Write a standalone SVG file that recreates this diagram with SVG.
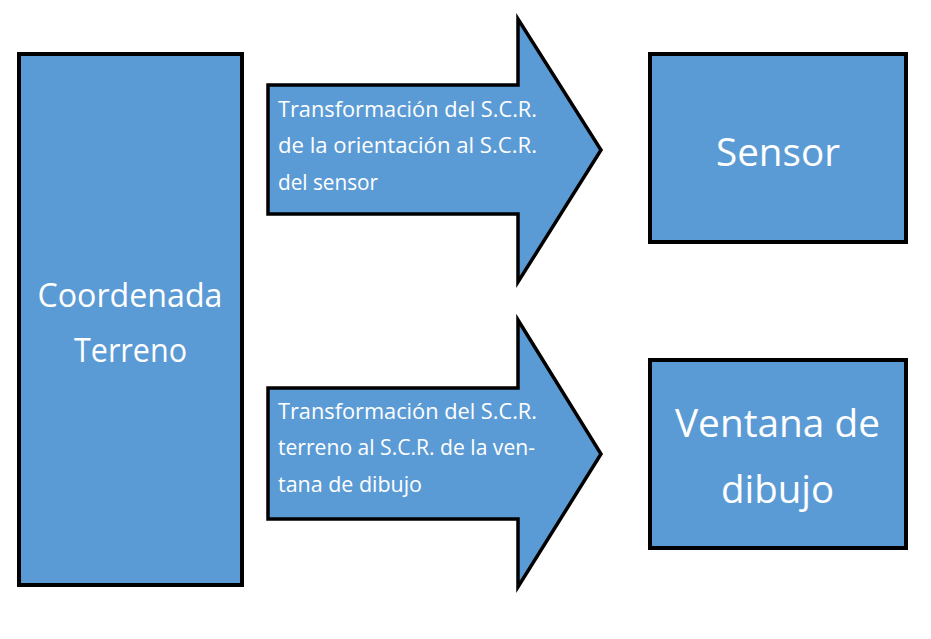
<svg xmlns="http://www.w3.org/2000/svg" width="931" height="639" viewBox="0 0 931 639">
<style>
.box{fill:#5B9BD5;stroke:#000;stroke-width:4}
.arr{fill:#5B9BD5;stroke:#000;stroke-width:3.5;stroke-linejoin:miter}
.big{font-family:"Open Sans","Liberation Sans",sans-serif;font-size:39px;fill:#fff;text-anchor:middle}
.mid{font-size:32.5px}
.small{font-family:"Open Sans","Liberation Sans",sans-serif;font-size:21.5px;fill:#fff}
</style>
<rect width="931" height="639" fill="#fff"/>
<g id="coordenada">
<rect class="box" x="19" y="54" width="223" height="531"/>
<text class="big mid" x="130" y="307" textLength="185" lengthAdjust="spacingAndGlyphs">Coordenada</text>
<text class="big mid" x="130.5" y="362" textLength="113" lengthAdjust="spacingAndGlyphs">Terreno</text>
</g>
<g id="connectors">
<g id="arrow1">
<path class="arr" d="M268,85 H518 V19 L601,150 L518,282 V214 H268 Z"/>
<text class="small" x="278" y="117" textLength="259" lengthAdjust="spacingAndGlyphs">Transformación del S.C.R.</text>
<text class="small" x="278" y="153" textLength="259" lengthAdjust="spacingAndGlyphs">de la orientación al S.C.R.</text>
<text class="small" x="278" y="190" textLength="100" lengthAdjust="spacingAndGlyphs">del sensor</text>
</g>
<g id="arrow2">
<path class="arr" d="M268,388 H518 V320 L601,454 L518,587 V519 H268 Z"/>
<text class="small" x="278" y="419" textLength="259" lengthAdjust="spacingAndGlyphs">Transformación del S.C.R.</text>
<text class="small" x="278" y="455" textLength="257" lengthAdjust="spacingAndGlyphs">terreno al S.C.R. de la ven-</text>
<text class="small" x="278" y="492" textLength="144" lengthAdjust="spacingAndGlyphs">tana de dibujo</text>
</g>
</g>
<g id="sensor">
<rect class="box" x="650" y="54" width="256" height="188"/>
<text class="big" x="778" y="166" textLength="124" lengthAdjust="spacingAndGlyphs">Sensor</text>
</g>
<g id="ventana">
<rect class="box" x="650" y="360" width="256" height="188"/>
<text class="big" x="777.5" y="437" textLength="205" lengthAdjust="spacingAndGlyphs">Ventana de</text>
<text class="big" x="777.5" y="503" textLength="113" lengthAdjust="spacingAndGlyphs">dibujo</text>
</g>
</svg>
